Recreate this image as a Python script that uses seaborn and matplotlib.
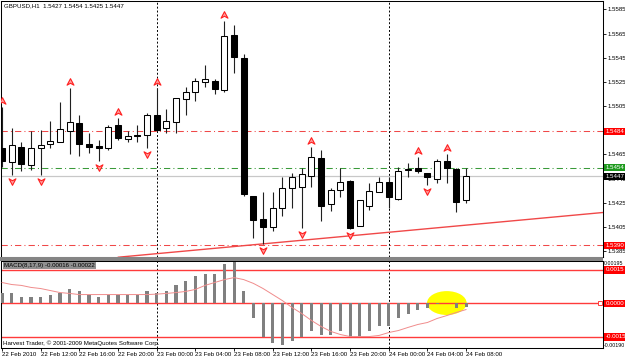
import numpy as np
import matplotlib
matplotlib.use("Agg")
import matplotlib.pyplot as plt
import seaborn as sns
from matplotlib.path import Path
from matplotlib.patches import Ellipse, Rectangle
from matplotlib.transforms import offset_copy, blended_transform_factory

# ---------------- data (GBPUSD H1) ----------------
opens = [1.5470, 1.5459, 1.5471, 1.5456, 1.5470, 1.5474, 1.5475, 1.5484, 1.5491, 1.5474,
         1.5472, 1.5470, 1.5489, 1.5478, 1.5481, 1.5481, 1.5498, 1.5487, 1.5492, 1.5511,
         1.5517, 1.5525, 1.5526, 1.5518, 1.5564, 1.5545, 1.5431, 1.5412, 1.5405, 1.5421,
         1.5437, 1.5438, 1.5447, 1.5462, 1.5424, 1.5436, 1.5443, 1.5406, 1.5422, 1.5434,
         1.5442, 1.5428, 1.5452, 1.5454, 1.5450, 1.5445, 1.5460, 1.5453, 1.5427]
highs = [1.5504, 1.5487, 1.5475, 1.5484, 1.5485, 1.5493, 1.5508, 1.5520, 1.5498, 1.5483,
         1.5477, 1.5489, 1.5495, 1.5484, 1.5489, 1.5499, 1.5520, 1.5503, 1.5512, 1.5521,
         1.5528, 1.5539, 1.5527, 1.5575, 1.5572, 1.5548, 1.5431, 1.5434, 1.5434, 1.5446,
         1.5450, 1.5454, 1.5471, 1.5469, 1.5437, 1.5454, 1.5444, 1.5427, 1.5441, 1.5446,
         1.5446, 1.5455, 1.5458, 1.5463, 1.5450, 1.5461, 1.5465, 1.5454, 1.5454]
lows = [1.5455, 1.5448, 1.5451, 1.5452, 1.5448, 1.5470, 1.5475, 1.5465, 1.5464, 1.5466,
        1.5460, 1.5469, 1.5477, 1.5475, 1.5475, 1.5470, 1.5484, 1.5483, 1.5483, 1.5498,
        1.5509, 1.5521, 1.5515, 1.5517, 1.5532, 1.5431, 1.5396, 1.5391, 1.5402, 1.5414,
        1.5421, 1.5404, 1.5438, 1.5410, 1.5418, 1.5430, 1.5403, 1.5406, 1.5419, 1.5434,
        1.5421, 1.5427, 1.5446, 1.5450, 1.5440, 1.5441, 1.5441, 1.5417, 1.5425]
closes = [1.5460, 1.5473, 1.5457, 1.5470, 1.5473, 1.5476, 1.5486, 1.5492, 1.5474, 1.5471,
          1.5470, 1.5488, 1.5479, 1.5480, 1.5480, 1.5498, 1.5485, 1.5493, 1.5512, 1.5517,
          1.5526, 1.5527, 1.5519, 1.5563, 1.5546, 1.5432, 1.5411, 1.5405, 1.5421, 1.5437,
          1.5446, 1.5449, 1.5463, 1.5422, 1.5436, 1.5442, 1.5404, 1.5427, 1.5435, 1.5442,
          1.5430, 1.5451, 1.5453, 1.5451, 1.5446, 1.5460, 1.5454, 1.5426, 1.5447]

macd_hist = [0.00045, 0.00045, 0.00027, 0.00027, 0.00031, 0.00036, 0.00049, 0.00063, 0.00054, 0.00040,
             0.00031, 0.00040, 0.00040, 0.00040, 0.00040, 0.00054, 0.00049, 0.00058, 0.00081, 0.00099,
             0.00121, 0.00134, 0.00130, 0.00175, 0.00184, 0.00054, -0.00063, -0.00148, -0.00179, -0.00184,
             -0.00170, -0.00152, -0.00125, -0.00143, -0.00143, -0.00125, -0.00148, -0.00148, -0.00125, -0.00103,
             -0.00099, -0.00067, -0.00045, -0.00031, -0.00022, -0.00002, 0.00004, -0.00022, -0.00016]
macd_signal = [0.00094, 0.00085, 0.00081, 0.00072, 0.00067, 0.00058, 0.00049, 0.00045, 0.00040, 0.00040,
               0.00040, 0.00040, 0.00040, 0.00040, 0.00040, 0.00040, 0.00042, 0.00045, 0.00049, 0.00054,
               0.00063, 0.00081, 0.00094, 0.00107, 0.00116, 0.00107, 0.00090, 0.00067, 0.00040, 0.00013,
               -0.00018, -0.00045, -0.00076, -0.00103, -0.00125, -0.00139, -0.00148, -0.00148, -0.00148, -0.00143,
               -0.00130, -0.00121, -0.00107, -0.00094, -0.00085, -0.00067, -0.00054, -0.00040, -0.00027]

fractal_up = [0, 7, 12, 16, 23, 32, 43, 46]
fractal_dn = [1, 4, 10, 15, 27, 31, 36, 44]

time_tick_pos = [0, 4, 8, 12, 16, 20, 24, 28, 32, 36, 40, 44, 48]
time_labels = ["22 Feb 2010", "22 Feb 12:00", "22 Feb 16:00", "22 Feb 20:00", "23 Feb 00:00",
               "23 Feb 04:00", "23 Feb 08:00", "23 Feb 12:00", "23 Feb 16:00", "23 Feb 20:00",
               "24 Feb 00:00", "24 Feb 04:00", "24 Feb 08:00"]
day_separators = [16, 40]

price_ticks = [1.5385, 1.5405, 1.5425, 1.5445, 1.5465, 1.5485, 1.5505, 1.5525, 1.5545, 1.5565, 1.5585]
resistance_level = 1.5484
support_level = 1.5390
green_level = 1.5454
bid_level = 1.5447
trend_x = [12.0, 62.15]
trend_y = [1.5380, 1.5417]
macd_levels = [0.0015, 0.0, -0.0015]

header = "GBPUSD,H1  1.5427 1.5454 1.5425 1.5447"
macd_title = "MACD(8,17,9) -0.00016 -0.00022"
copyright_txt = "Harvest Trader, \u00a9 2001-2009 MetaQuotes Software Corp."

# ---------------- style ----------------
sns.set_theme(style="white")
plt.rcParams['font.family'] = ['Liberation Sans', 'DejaVu Sans']
plt.rcParams['axes.edgecolor'] = 'black'
plt.rcParams['axes.linewidth'] = 0.75
FS = 4.4

W, H = 625, 359
fig = plt.figure(figsize=(W / 100, H / 100), dpi=100)
fig.patch.set_facecolor('white')


def fx(px):
    return px / W


def fy(py):
    return 1 - py / H


ax = fig.add_axes([fx(1), fy(257), fx(602), (257 - 1) / H])
ax2 = fig.add_axes([fx(1), fy(348), fx(602), (348 - 261) / H])
for a in (ax, ax2):
    a.set_facecolor('white')

idx = np.arange(len(opens))
o = np.array(opens); h = np.array(highs); l = np.array(lows); c = np.array(closes)
bull = c >= o

# ---------------- main price panel ----------------
XMIN, XMAX = -0.1, 62.15
ax.set_xlim(XMIN, XMAX)
ax.set_ylim(1.53802, 1.55919)

dashdot = (0, (6, 3, 1, 3))
ax.axhline(resistance_level, color='#F04848', lw=0.75, ls=dashdot, zorder=1)
ax.axhline(support_level, color='#F04848', lw=0.75, ls=dashdot, zorder=1)
ax.axhline(green_level, color='#3A9A3A', lw=0.75, ls=dashdot, zorder=1)
ax.axhline(bid_level, color='#C8C8C8', lw=0.9, zorder=1)
for d in day_separators:
    ax.axvline(d, color='black', lw=0.7, ls=(0, (2, 2)), zorder=1)

sns.lineplot(x=trend_x, y=trend_y, ax=ax, color='#F04848', lw=1.0, zorder=2)

ax.vlines(idx, l, h, color='#202020', lw=0.8, zorder=3)
ax.bar(idx, np.abs(c - o), bottom=np.minimum(o, c), width=0.62,
       color=np.where(bull, 'white', 'black'), edgecolor='black', linewidth=0.75, zorder=4)

# fractal arrows
up_marker = Path([(0, 1), (0.9, -0.7), (0, -0.2), (-0.9, -0.7), (0, 1)],
                 [Path.MOVETO, Path.LINETO, Path.LINETO, Path.LINETO, Path.CLOSEPOLY])
dn_marker = Path([(0, -1), (0.9, 0.7), (0, 0.2), (-0.9, 0.7), (0, -1)],
                 [Path.MOVETO, Path.LINETO, Path.LINETO, Path.LINETO, Path.CLOSEPOLY])
ax.plot(idx[fractal_up], h[fractal_up], ls='none', marker=up_marker, ms=5.5,
        mfc='#FFA0A0', mec='#FF2020', mew=0.8, zorder=5,
        transform=offset_copy(ax.transData, fig=fig, x=0, y=6, units='dots'))
ax.plot(idx[fractal_dn], l[fractal_dn], ls='none', marker=dn_marker, ms=5.5,
        mfc='#FFA0A0', mec='#FF2020', mew=0.8, zorder=5,
        transform=offset_copy(ax.transData, fig=fig, x=0, y=-6, units='dots'))

ax.set_xticks([])
ax.yaxis.tick_right()
ax.set_yticks(price_ticks)
ax.set_yticklabels([f"{v:.4f}" for v in price_ticks])
ax.tick_params(axis='y', which='both', right=True, left=False, labelright=True, labelleft=False,
               direction='out', length=2.2, width=0.6, pad=1.2, labelsize=FS, colors='black')
ax.set_xlabel(''); ax.set_ylabel('')

tr = blended_transform_factory(ax.transAxes, ax.transData)
box_kw = dict(boxstyle='square,pad=0.18', ec='none')
ax.text(1.004, resistance_level, f"{resistance_level:.4f}", transform=tr, color='white', fontsize=FS,
        va='center', ha='left', bbox=dict(fc='#FF0000', **box_kw), zorder=10, clip_on=False)
ax.text(1.004, support_level, f"{support_level:.4f}", transform=tr, color='white', fontsize=FS,
        va='center', ha='left', bbox=dict(fc='#FF0000', **box_kw), zorder=10, clip_on=False)
ax.text(1.004, green_level, f"{green_level:.4f}", transform=tr, color='white', fontsize=FS,
        va='center', ha='left', bbox=dict(fc='#1E9A1E', **box_kw), zorder=10, clip_on=False)
ax.text(1.004, bid_level, f"{bid_level:.4f}", transform=tr, color='white', fontsize=FS,
        va='center', ha='left', bbox=dict(fc='black', **box_kw), zorder=11, clip_on=False)

# ---------------- MACD panel ----------------
ax2.add_patch(Ellipse((46.0, 0.00002), 4.1, 0.00107, fc='#FFFF00', ec='none', zorder=1))
for v in macd_levels:
    ax2.axhline(v, color='#FF3B3B', lw=1.0, zorder=2)
for d in day_separators:
    ax2.axvline(d, color='black', lw=0.7, ls=(0, (2, 2)), zorder=1)

sns.barplot(x=idx, y=macd_hist, native_scale=True, width=0.32, color='#808080', saturation=1,
            errorbar=None, linewidth=0, ax=ax2, zorder=3)
sns.lineplot(x=idx, y=macd_signal, ax=ax2, color='#F08C8C', lw=0.7, zorder=4)

ax2.set_xlim(XMIN, XMAX)
ax2.set_ylim(-0.001993, 0.001903)
ax2.set_yticks([])
ax2.set_xticks(time_tick_pos)
ax2.set_xticklabels(time_labels)
for lbl in ax2.get_xticklabels():
    lbl.set_horizontalalignment('left')
ax2.tick_params(axis='x', bottom=True, direction='out', length=2.2, width=0.6, pad=1,
                labelsize=FS, colors='black')
ax2.set_xlabel(''); ax2.set_ylabel('')
ax2.plot([61.85], [0.0], marker='s', ms=2.5, mfc='white', mec='#FF3B3B', mew=0.7,
         clip_on=False, zorder=6)

tr2 = blended_transform_factory(ax2.transAxes, ax2.transData)
for v in macd_levels:
    ax2.text(1.004, v, f"{v:.4f}", transform=tr2, color='white', fontsize=FS, va='center', ha='left',
             bbox=dict(fc='#FF0000', **box_kw), zorder=10, clip_on=False)
ax2.text(1.0015, 1.0, "0.00195", transform=ax2.transAxes, fontsize=3.8, va='top', ha='left', color='black')
ax2.text(1.0015, 0.0, "-0.00190", transform=ax2.transAxes, fontsize=3.8, va='bottom', ha='left', color='black')

# ---------------- texts and separator ----------------
fig.add_artist(Rectangle((0, fy(260.5)), fx(603), 3.5 / H, transform=fig.transFigure,
                         fc='#858585', ec='none'))
fig.text(fx(4), fy(6), header, fontsize=FS, va='center', ha='left', color='black')
fig.text(fx(4), fy(265.5), macd_title, fontsize=FS, va='center', ha='left', color='black',
         bbox=dict(boxstyle='square,pad=0.2', fc='#909090', ec='none'))
fig.text(fx(3), fy(343), copyright_txt, fontsize=FS, va='center', ha='left', color='black')

fig.savefig('out.png', dpi=100)
